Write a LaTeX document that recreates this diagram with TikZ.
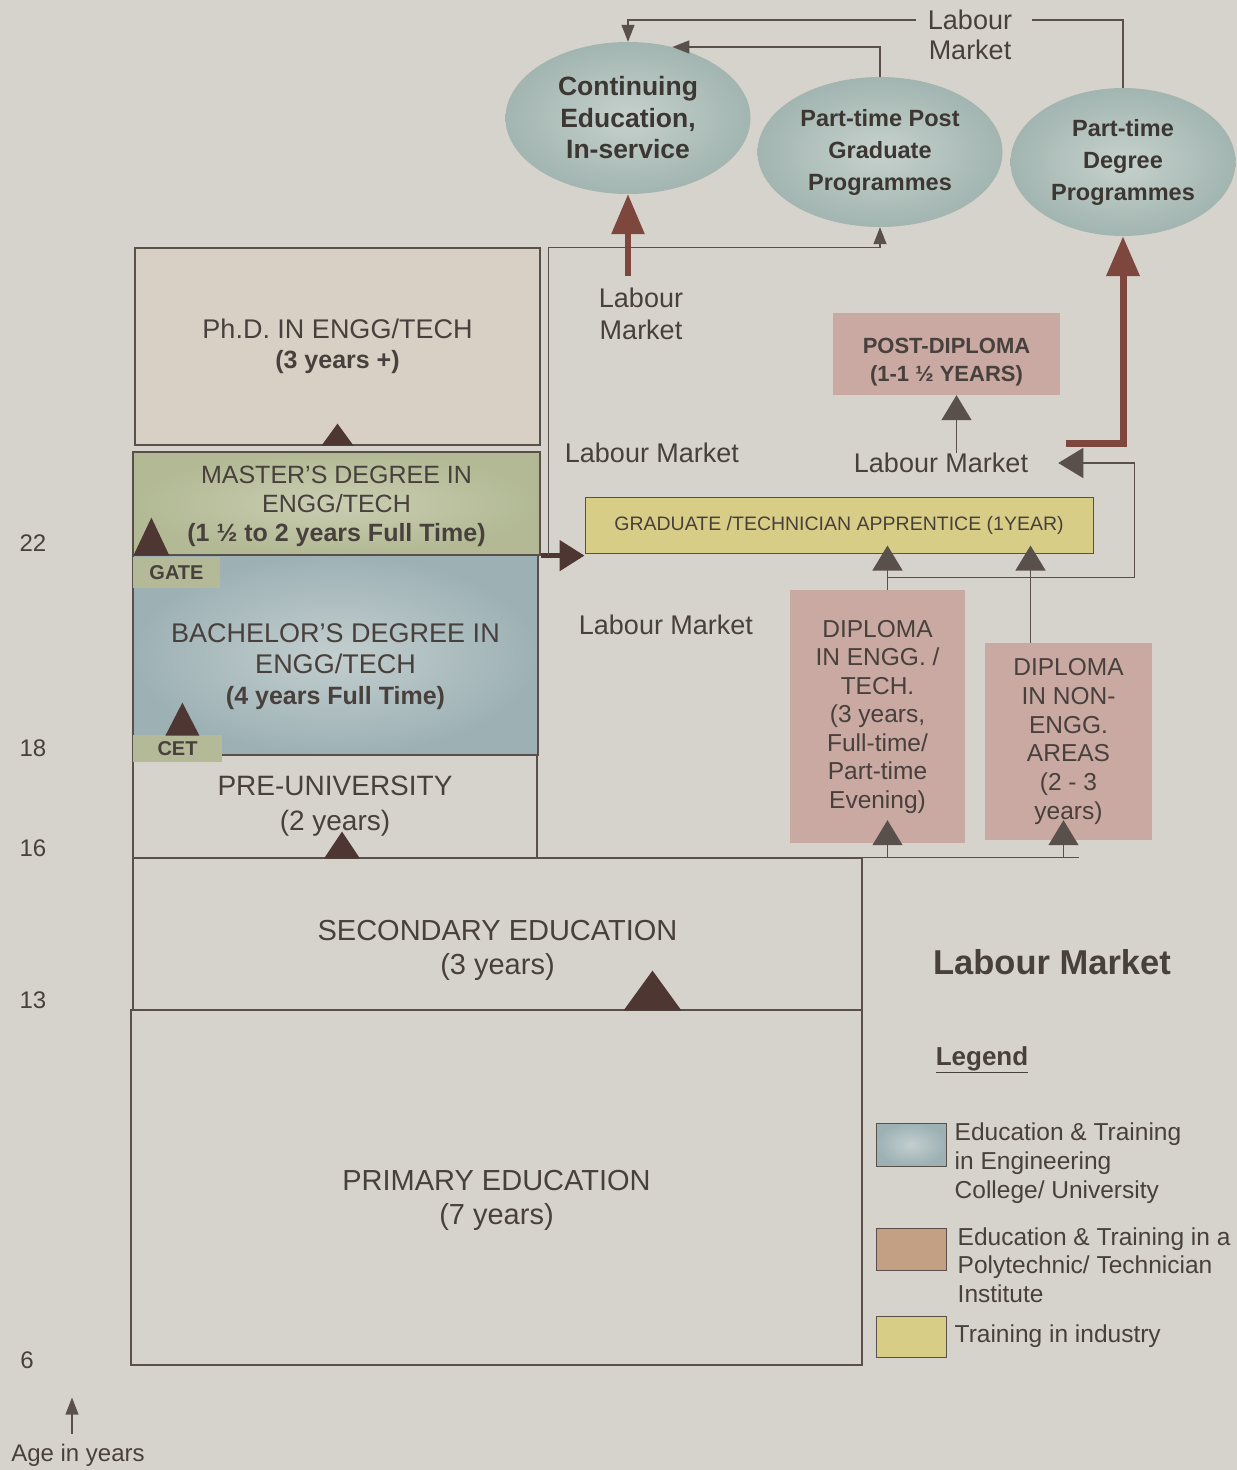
\documentclass[tikz,border=0pt]{standalone}
\usepackage{fontspec}
\setmainfont{Liberation Sans}
\usetikzlibrary{arrows.meta, positioning, calc, shapes.geometric}
\definecolor{paper}{HTML}{D6D3CC}
\definecolor{ink}{HTML}{48403C}
\definecolor{ovalink}{HTML}{3D3733}
\definecolor{rule}{HTML}{5A504B}
\definecolor{phdfill}{HTML}{D9D0C5}
\definecolor{mastfill}{HTML}{B2B994}
\definecolor{mastlite}{HTML}{CACEB2}
\definecolor{bachfill}{HTML}{9DB1B5}
\definecolor{bachlite}{HTML}{C3CECE}
\definecolor{ovalfill}{HTML}{A2B5B0}
\definecolor{ovallite}{HTML}{C6D1CD}
\definecolor{polyfill}{HTML}{C9A9A2}
\definecolor{indfill}{HTML}{D8CD86}
\definecolor{tagfill}{HTML}{B4BA98}
\definecolor{legbrown}{HTML}{C3A084}
\definecolor{arrowbrown}{HTML}{7D473E}
\definecolor{tridark}{HTML}{4E3632}

\begin{document}
\begin{tikzpicture}[x=1pt, y=-1pt,
  every node/.style={text=ink, inner sep=0pt, align=center},
  oval/.style={ellipse, inner color=ovallite, outer color=ovalfill, text=ovalink,
    font=\fontsize{23.5}{32}\selectfont\bfseries},
  box/.style={rectangle, draw=rule, line width=1.2pt},
  poly/.style={rectangle, fill=polyfill},
  tag/.style={rectangle, fill=tagfill, font=\fontsize{20}{24}\selectfont\bfseries},
  lbl/.style={font=\fontsize{27}{31}\selectfont},
  conn/.style={draw=rule, line width=1.3pt},
  heavy/.style={draw=arrowbrown, line width=6pt},
  tipsm/.style={-{Triangle[width=13pt,length=17pt]}},
  tipmd/.style={-{Triangle[width=30pt,length=25pt]}},
  tipbig/.style={-{Triangle[width=32pt,length=40pt]}},
  uptri/.pic={\fill[tridark] (-1,0) -- (1,0) -- (0,-1) -- cycle;}]
\fill[paper] (0,0) rectangle (1237,1470);
\useasboundingbox (0,0) rectangle (1237,1470);

% ovals at the top
\node[oval, minimum width=245pt, minimum height=152pt, font=\fontsize{26.5}{31.5}\selectfont\bfseries]
  (contedu) at (628,118) {Continuing\\Education,\\In-service};
\node[oval, minimum width=245pt, minimum height=150pt] (ptpg) at (880,152) {Part-time Post\\Graduate\\Programmes};
\node[oval, minimum width=225pt, minimum height=148pt] (ptdeg) at (1123,162) {Part-time\\Degree\\Programmes};

% main ladder
\node[box, fill=phdfill, minimum width=405pt, minimum height=197pt, font=\fontsize{27}{30}\selectfont]
  (phd) at (337.5,346.5) {Ph.D. IN ENGG/TECH\\\fontsize{25}{30}\selectfont\bfseries (3 years +)};
\node[box, inner color=mastlite, outer color=mastfill, minimum width=407pt, minimum height=103pt,
  font=\fontsize{25}{29}\selectfont] (master) at (336.5,503.5) {};
\node[font=\fontsize{25}{29}\selectfont] (masttxt) at ([yshift=-3pt]master.center)
  {MASTER'S DEGREE IN\\ENGG/TECH\\\bfseries (1 ½ to 2 years Full Time)};
\node[box, inner color=bachlite, outer color=bachfill, minimum width=405pt, minimum height=200pt] (bach) at (335.5,655) {};
\node[font=\fontsize{27}{31}\selectfont] (bachtxt) at ([yshift=-12pt]bach.center)
  {BACHELOR'S DEGREE IN\\ENGG/TECH\\\fontsize{25}{31}\selectfont\bfseries (4 years Full Time)};
\node[box, minimum width=404pt, minimum height=103pt, font=\fontsize{28}{35}\selectfont]
  (preuni) at (335,806.5) {PRE-UNIVERSITY\\(2 years)};
\node[box, minimum width=729pt, minimum height=152pt] (second) at (497.5,934) {};
\node[font=\fontsize{29}{34}\selectfont] (sectxt) at ([yshift=-16pt]second.center) {SECONDARY EDUCATION\\(3 years)};
\node[box, minimum width=731pt, minimum height=355pt] (primary) at (496.5,1187.5) {};
\node[font=\fontsize{29}{34}\selectfont] (primtxt) at ([yshift=-13pt]primary.center) {PRIMARY EDUCATION\\(7 years)};
\node[tag, minimum width=87pt, minimum height=31pt] (gate) at (176.5,572.5) {GATE};
\node[tag, minimum width=89pt, minimum height=27pt] (cet) at (177.5,748.5) {CET};

% polytechnic and industry
\node[poly, minimum width=227pt, minimum height=82pt] (postdip) at (946.5,354) {};
\node[font=\fontsize{22}{28}\selectfont\bfseries] (postdiptxt) at ([yshift=-8pt]postdip.center)
  {POST-DIPLOMA\\(1-1 ½ YEARS)};
\node[box, fill=indfill, line width=1pt, minimum width=508pt, minimum height=56pt, font=\fontsize{19.5}{23}\selectfont]
  (appr) at (839,525) {GRADUATE /TECHNICIAN APPRENTICE (1YEAR)};
\node[poly, minimum width=175pt, minimum height=253pt, font=\fontsize{24.5}{28.5}\selectfont]
  (dipeng) at (877.5,716.5) {DIPLOMA\\IN ENGG. /\\TECH.\\(3 years,\\Full-time/\\Part-time\\Evening)};
\node[poly, minimum width=167pt, minimum height=197pt, font=\fontsize{24.5}{28.7}\selectfont]
  (dipnon) at (1068.5,741.5) {DIPLOMA\\IN NON-\\ENGG.\\AREAS\\(2 - 3\\years)};

% labour market labels
\node[lbl, font=\fontsize{27}{30}\selectfont] (labtop) at (970,35) {Labour\\Market};
\node[lbl, font=\fontsize{27}{32}\selectfont] (labcont) at (641,314) {Labour\\Market};
\node[lbl] (labgrad) at (652,453) {Labour Market};
\node[lbl] (labdip) at (666,625) {Labour Market};
\node[lbl] (labpd) at (941,463) {Labour Market};
\node[font=\fontsize{34.5}{40}\selectfont\bfseries] (labbig) at (1052,962) {Labour Market};

% ages
\node[font=\fontsize{24}{28}\selectfont] (age22) at (33,543) {22};
\node[font=\fontsize{24}{28}\selectfont] (age18) at (33,748) {18};
\node[font=\fontsize{24}{28}\selectfont] (age16) at (33,848) {16};
\node[font=\fontsize{24}{28}\selectfont] (age13) at (33,1000) {13};
\node[font=\fontsize{24}{28}\selectfont] (age6) at (27,1360) {6};
\node[font=\fontsize{24}{28}\selectfont] (agelbl) at (78,1455) {Age in years};

% legend
\node[font=\fontsize{26}{30}\selectfont\bfseries] (legtitle) at (982,1060) {\underline{Legend}};
\node[box, line width=1pt, inner color=bachlite, outer color=bachfill, minimum width=70pt, minimum height=43pt] (sw1) at (911,1144.5) {};
\node[box, line width=1pt, fill=legbrown, minimum width=70pt, minimum height=42pt] (sw2) at (911,1249) {};
\node[box, line width=1pt, fill=indfill, minimum width=70pt, minimum height=41pt] (sw3) at (911,1336.5) {};
\node[font=\fontsize{24.5}{29}\selectfont, align=left, anchor=north west] (lg1) at ([xshift=8pt]sw1.north east)
  {Education \& Training\\in Engineering\\College/ University};
\node[font=\fontsize{24.5}{28.5}\selectfont, align=left, anchor=north west] (lg2) at ([xshift=11pt]sw2.north east)
  {Education \& Training in a\\Polytechnic/ Technician\\Institute};
\node[font=\fontsize{24.5}{29}\selectfont, anchor=west] (lg3) at ([xshift=8pt]sw3.east) {Training in industry};

% progression marks
\pic[xscale=16, yscale=22] at (phd.south) {uptri};
\pic[xscale=18, yscale=38] at ([xshift=19pt]master.south west) {uptri};
\pic[xscale=17, yscale=33] at ($(bach.south west)+(50,-20)$) {uptri};
\pic[xscale=18, yscale=27] at ($(preuni.south)+(7,0)$) {uptri};
\pic[xscale=29, yscale=40] at ($(second.south)+(155,0)$) {uptri};

% links round the ovals
\draw[conn, tipsm] ([xshift=-12pt,yshift=15pt]labtop.west) -| (contedu.north);
\draw[conn] ([xshift=20pt,yshift=15pt]labtop.east) -| (ptdeg.north);
\draw[conn, tipsm] (ptpg.north) |- (contedu.58);
\coordinate (cfeed) at ($(contedu.south |- labcont.north)+(0,-12)$);
\draw[heavy, tipbig] (cfeed) -- (contedu.south);

% master's to apprentice, and on to part-time post graduate
\draw[draw=tridark, line width=5pt, tipmd] (master.south east) -- (master.south east -| appr.west);
\coordinate (fork) at ($(master.south east)+(8,0)$);
\draw[conn, tipsm] (fork) |- (ptpg.south |- phd.north) -- (ptpg.south);

% post-diploma and part-time degree
\coordinate (pdup) at ([xshift=10pt]postdip.south);
\draw[conn, tipmd] (pdup |- labpd.north) -- (pdup);
\coordinate (pdout) at ($(labpd.east)+(38,-20)$);
\draw[heavy, line width=7pt, tipbig] (pdout) -| (ptdeg.south);

% diplomas to apprentice
\coordinate (engup) at ([xshift=10pt]dipeng.north);
\coordinate (nonup) at ([xshift=-38pt]dipnon.north);
\coordinate (jright) at ($(engup)+(247,-12)$);
\draw[conn, tipmd] (engup) -- ($(engup |- appr.south)+(0,-8)$);
\draw[conn, tipmd] (nonup) -- ($(nonup |- appr.south)+(0,-8)$);
\draw[conn, tipmd] (engup |- jright) -- (jright) |- ([xshift=30pt]labpd.east);

% secondary to diplomas
\coordinate (engdn) at ([xshift=10pt]dipeng.south);
\coordinate (nondn) at ([xshift=-5pt]dipnon.south);
\coordinate (feedend) at ($(nondn |- second.north)+(15,0)$);
\draw[conn] (second.north east) -- (feedend);
\draw[conn, tipmd] (engdn |- second.north) -- ($(engdn)+(0,-23)$);
\draw[conn, tipmd] (nondn |- second.north) -- ($(nondn)+(0,-20)$);

% age axis
\draw[conn, tipsm] ([xshift=-6pt,yshift=10pt]agelbl.north) -- ++(0,-36);
\end{tikzpicture}
\end{document}
